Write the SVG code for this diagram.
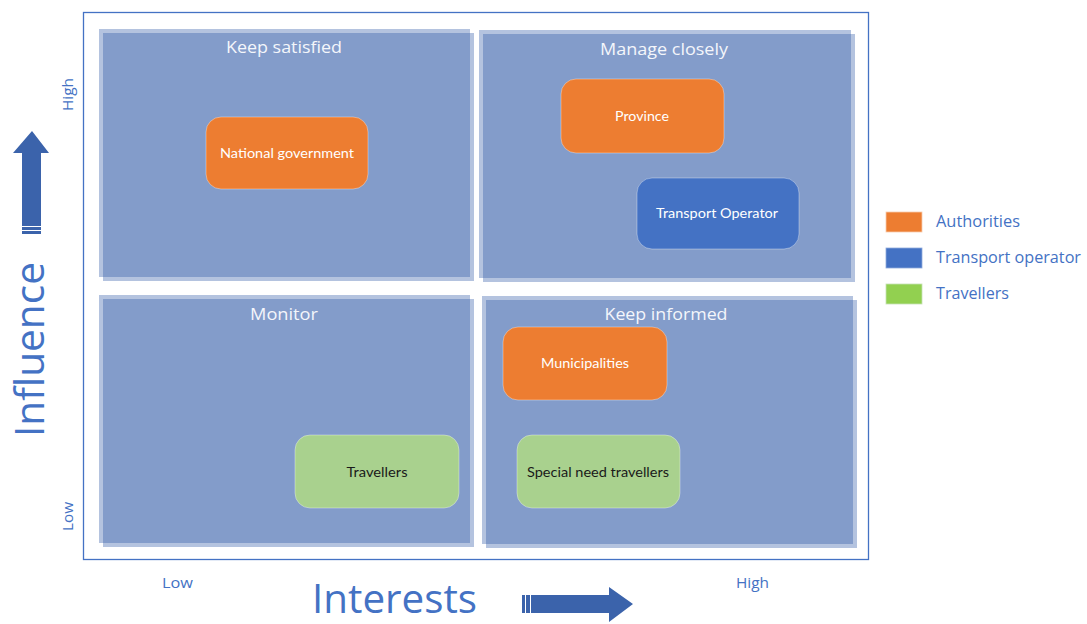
<svg xmlns="http://www.w3.org/2000/svg" width="1087" height="624" viewBox="0 0 1087 624">
  <style>
    .quad { fill: #2954A4; fill-opacity: 0.35; }
    .qtitle { font-family: "Open Sans", "Noto Sans", sans-serif; font-size: 16px; fill: #F4F6FB; text-anchor: middle; }
    .node { stroke: #FFFFFF; stroke-opacity: 0.35; stroke-width: 1; }
    .orange { fill: #ED7D31; }
    .blue { fill: #4472C4; }
    .green { fill: #A9D18E; }
    .nlabel { font-family: "Lato", "Open Sans", sans-serif; font-size: 14px; text-anchor: middle; }
    .light { fill: #FFFFFF; }
    .dark { fill: #1A1A1A; }
    .axis { font-family: "Open Sans", "Noto Sans", sans-serif; fill: #4472C4; }
    .legend { font-family: "Open Sans", "Noto Sans", sans-serif; font-size: 15.5px; fill: #4472C4; }
    .arrow { fill: #3B63AB; }
    .stripe { stroke: #FFFFFF; stroke-width: 1; }
  </style>

  <rect width="1087" height="624" fill="#FFFFFF"/>

  <!-- matrix frame -->
  <rect x="83.5" y="12.5" width="785" height="547" fill="none" stroke="#4472C4" stroke-width="1.3"/>

  <!-- quadrants: two offset translucent panels each -->
  <g id="q-keep-satisfied">
    <rect class="quad" x="99" y="29" width="371" height="248"/>
    <rect class="quad" x="103" y="33" width="371" height="248"/>
    <text class="qtitle" x="284" y="53" textLength="116" lengthAdjust="spacingAndGlyphs">Keep satisfied</text>
  </g>
  <g id="q-manage-closely">
    <rect class="quad" x="479" y="30" width="372" height="248"/>
    <rect class="quad" x="483" y="34" width="372" height="248"/>
    <text class="qtitle" x="664" y="55" textLength="128" lengthAdjust="spacingAndGlyphs">Manage closely</text>
  </g>
  <g id="q-monitor">
    <rect class="quad" x="99" y="295" width="371" height="248"/>
    <rect class="quad" x="103" y="299" width="371" height="248"/>
    <text class="qtitle" x="284" y="320" textLength="68" lengthAdjust="spacingAndGlyphs">Monitor</text>
  </g>
  <g id="q-keep-informed">
    <rect class="quad" x="482" y="296" width="371" height="248"/>
    <rect class="quad" x="486" y="300" width="371" height="248"/>
    <text class="qtitle" x="666" y="320" textLength="123" lengthAdjust="spacingAndGlyphs">Keep informed</text>
  </g>

  <!-- stakeholders -->
  <g id="national-government">
    <rect class="node orange" x="206" y="117" width="162" height="72" rx="15"/>
    <text class="nlabel light" x="287" y="158" textLength="134" lengthAdjust="spacingAndGlyphs">National government</text>
  </g>
  <g id="province">
    <rect class="node orange" x="561" y="79" width="163" height="74" rx="15"/>
    <text class="nlabel light" x="642" y="121" textLength="54" lengthAdjust="spacingAndGlyphs">Province</text>
  </g>
  <g id="transport-operator">
    <rect class="node blue" x="637" y="178" width="162" height="71" rx="15"/>
    <text class="nlabel light" x="717" y="218" textLength="122" lengthAdjust="spacingAndGlyphs">Transport Operator</text>
  </g>
  <g id="travellers">
    <rect class="node green" x="295" y="435" width="164" height="73" rx="15"/>
    <text class="nlabel dark" x="377" y="477" textLength="61" lengthAdjust="spacingAndGlyphs">Travellers</text>
  </g>
  <g id="municipalities">
    <rect class="node orange" x="503" y="327" width="164" height="73" rx="15"/>
    <text class="nlabel light" x="585" y="368" textLength="88" lengthAdjust="spacingAndGlyphs">Municipalities</text>
  </g>
  <g id="special-need-travellers">
    <rect class="node green" x="517" y="435" width="163" height="73" rx="15"/>
    <text class="nlabel dark" x="598" y="477" textLength="142" lengthAdjust="spacingAndGlyphs">Special need travellers</text>
  </g>

  <!-- axes -->
  <g id="influence-axis">
    <text class="axis" font-size="40" transform="translate(44 437) rotate(-90)" textLength="175" lengthAdjust="spacingAndGlyphs">Influence</text>
    <text class="axis" font-size="14" transform="translate(73 111) rotate(-90)" textLength="33" lengthAdjust="spacingAndGlyphs">High</text>
    <text class="axis" font-size="14" transform="translate(73 531) rotate(-90)" textLength="29" lengthAdjust="spacingAndGlyphs">Low</text>
    <path class="arrow" d="M22 234 V153 H13 L32 131 L49 153 H41 V234 Z"/>
    <line class="stripe" x1="22" y1="226.5" x2="41" y2="226.5"/>
    <line class="stripe" x1="22" y1="230.5" x2="41" y2="230.5"/>
  </g>
  <g id="interests-axis">
    <text class="axis" font-size="40" x="312" y="613" textLength="165" lengthAdjust="spacingAndGlyphs">Interests</text>
    <text class="axis" font-size="15" x="162" y="588" textLength="31" lengthAdjust="spacingAndGlyphs">Low</text>
    <text class="axis" font-size="15" x="736" y="588" textLength="33" lengthAdjust="spacingAndGlyphs">High</text>
    <path class="arrow" d="M522 595 H609 V587 L633 604 L609 622 V613 H522 Z"/>
    <line class="stripe" x1="525.5" y1="595" x2="525.5" y2="613"/>
    <line class="stripe" x1="530.5" y1="595" x2="530.5" y2="613"/>
  </g>

  <!-- legend -->
  <g id="legend">
    <rect class="orange" x="886" y="212" width="36" height="20" stroke="#F8CBAD" stroke-width="0.8"/>
    <text class="legend" x="936" y="227" textLength="84" lengthAdjust="spacingAndGlyphs">Authorities</text>
    <rect class="blue" x="886" y="248" width="36" height="20" stroke="#8FAADC" stroke-width="0.8"/>
    <text class="legend" x="936" y="263" textLength="145" lengthAdjust="spacingAndGlyphs">Transport operator</text>
    <rect x="886" y="284" width="36" height="20" fill="#92D050" stroke="#C5E0B4" stroke-width="0.8"/>
    <text class="legend" x="936" y="299" textLength="73" lengthAdjust="spacingAndGlyphs">Travellers</text>
  </g>
</svg>
